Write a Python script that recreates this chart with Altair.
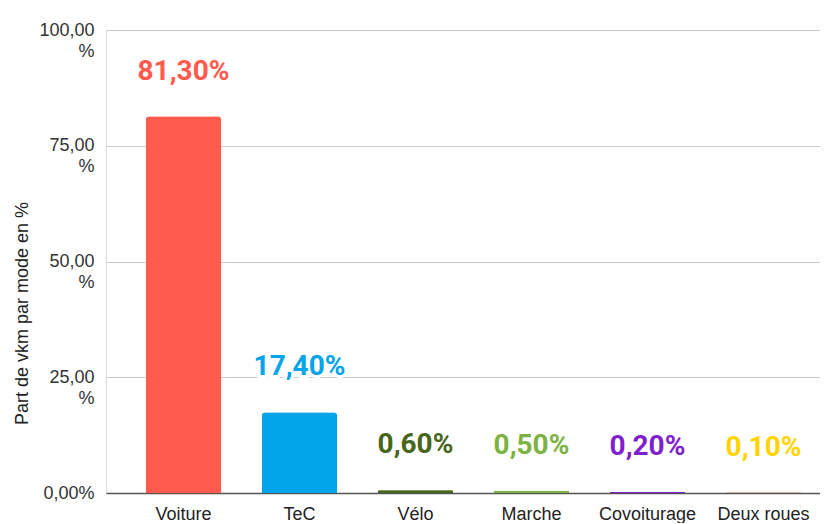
import altair as alt
import pandas as pd

modes = ["Voiture", "TeC", "Vélo", "Marche", "Covoiturage", "Deux roues"]
shares = [81.3, 17.4, 0.6, 0.5, 0.2, 0.1]
labels = ["81,30%", "17,40%", "0,60%", "0,50%", "0,20%", "0,10%"]
bar_colors = ["#ff5a4e", "#02a4ea", "#47661a", "#7cb342", "#7f1fd0", "#d9736b"]
label_colors = ["#ff5a4e", "#02a4ea", "#47661a", "#7cb342", "#7f1fd0", "#ffd400"]

df = pd.DataFrame({
    "mode": modes,
    "share": shares,
    "label": labels,
    "bar_color": bar_colors,
    "label_color": label_colors,
})

x = alt.X(
    "mode:N",
    sort=modes,
    title=None,
    scale=alt.Scale(paddingInner=0.353, paddingOuter=0.254, align=0.678),
    axis=alt.Axis(
        labelAngle=0,
        labelFont="Liberation Sans",
        labelFontSize=18,
        labelColor="#222222",
        labelPadding=12,
        ticks=False,
        domainColor="#555555",
        domainWidth=1.5,
        grid=False,
        zindex=0,
    ),
)

y = alt.Y(
    "share:Q",
    title="Part de vkm par mode en %",
    scale=alt.Scale(domain=[0, 100], nice=False),
    axis=alt.Axis(
        values=[0, 25, 50, 75, 100],
        labelExpr="datum.value == 0 ? '0,00%' : [replace(format(datum.value, '.2f'), '.', ','), '%']",
        labelFont="Liberation Sans",
        labelFontSize=18,
        labelColor="#333333",
        labelLineHeight=21,
        labelPadding=12,
        labelBaseline="middle",
        ticks=False,
        domain=False,
        grid=True,
        gridColor="#cccccc",
        gridWidth=1,
        titleFont="Liberation Sans",
        titleFontSize=18,
        titleFontWeight="normal",
        titleColor="#222222",
        titleAngle=-90,
        titleX=-84,
        titleY=283,
        titleAlign="center",
        titleBaseline="middle",
    ),
)

base = alt.Chart(df)

bars = base.mark_bar(cornerRadiusTopLeft=3, cornerRadiusTopRight=3, strokeWidth=1.2).encode(
    x=x,
    y=y,
    color=alt.Color("bar_color:N", scale=None),
    stroke=alt.Stroke("bar_color:N", scale=None),
)

halo = base.mark_text(
    font="Roboto", fontSize=28, fontWeight="bold", baseline="alphabetic",
    dy=-37, stroke="white", strokeWidth=6, fill="white",
).encode(x=x, y=y, text="label:N")

text = base.mark_text(
    font="Roboto", fontSize=28, fontWeight="bold", baseline="alphabetic", dy=-37,
).encode(
    x=x,
    y=y,
    text="label:N",
    color=alt.Color("label_color:N", scale=None),
)

chart = (bars + halo + text).properties(
    width=714,
    height=463,
    autosize=alt.AutoSizeParams(type="none"),
    padding={"left": 98, "top": 22, "right": 0, "bottom": 30},
).configure_view(stroke=None).configure(background="white")

chart.save("out.html", embed_options={"renderer": "svg", "actions": False})
